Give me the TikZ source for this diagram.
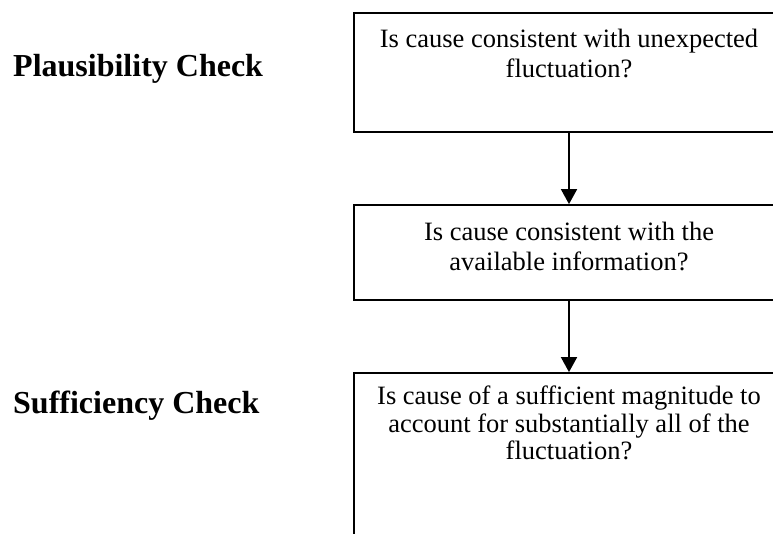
\documentclass[tikz,border=0pt]{standalone}
\usepackage{fontspec}
\setmainfont{Liberation Serif}
\usetikzlibrary{arrows.meta}
\begin{document}
\begin{tikzpicture}[x=1pt,y=-1pt,
  box/.style={draw=black,line width=1.8pt,rectangle,minimum width=430pt,inner sep=0pt},
  boxtext/.style={anchor=north,inner sep=0pt,align=center,font=\fontsize{26.5}{30.5}\selectfont},
  label/.style={anchor=base west,inner sep=0pt,font=\fontsize{32}{36}\selectfont\bfseries},
  conn/.style={line width=1.8pt,-{Triangle[width=16pt,length=15pt]}}]
\useasboundingbox (0,0) rectangle (773,533);
\clip (0,0) rectangle (773,533);
\node[box,minimum height=119pt] (b1) at (569,72.5) {};
\node[box,minimum height=95pt] (b2) at (569,252.5) {};
\node[box,minimum height=200pt] (b3) at (569,473) {};
\node[boxtext] (t1) at (569,28.7) {Is cause consistent with unexpected\\fluctuation?};
\node[boxtext] (t2) at (569,221.7) {Is cause consistent with the\\available information?};
\node[boxtext,font=\fontsize{26.5}{27.5}\selectfont] (t3) at (569,385.7) {Is cause of a sufficient magnitude to\\account for substantially all of the\\fluctuation?};
\node[label] (l1) at (13,76) {Plausibility Check};
\node[label] (l2) at (13,413) {Sufficiency Check};
\draw[conn] (b1.south) -- (b2.north);
\draw[conn] (b2.south) -- (b3.north);
\end{tikzpicture}
\end{document}
